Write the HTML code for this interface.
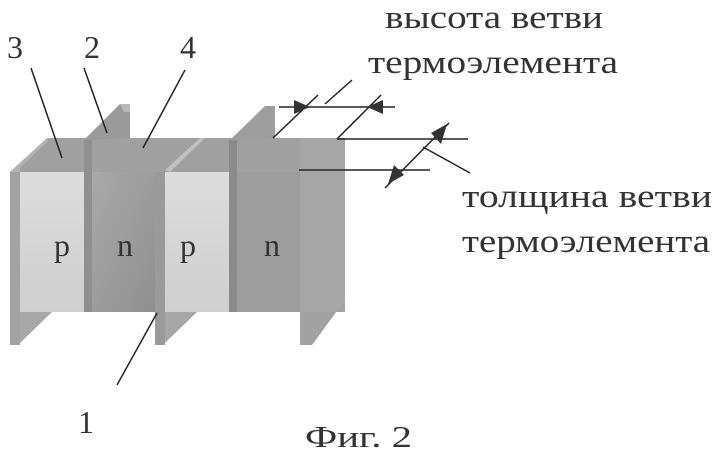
<!DOCTYPE html>
<html><head><meta charset="utf-8"><style>
html,body{margin:0;padding:0;background:#fff;width:722px;height:461px;overflow:hidden}
text{font-family:"Liberation Serif","Times New Roman",serif;fill:#333}
</style></head><body>
<svg width="722" height="461" viewBox="0 0 722 461" xmlns="http://www.w3.org/2000/svg">
<defs>
<linearGradient id="pg" x1="0" y1="0" x2="0" y2="1"><stop offset="0" stop-color="#dcdcdc"/><stop offset="1" stop-color="#cfcfcf"/></linearGradient>
<linearGradient id="ng" x1="0" y1="0" x2="1" y2="1"><stop offset="0" stop-color="#a9a9a9"/><stop offset="1" stop-color="#8f8f8f"/></linearGradient>
</defs>
<polygon points="10,172 47,138 345,138 345,172" fill="#a0a0a0"/>
<rect x="300" y="138" width="45" height="174" fill="#a6a6a6"/>
<polygon points="300,312 345,312 345,300 312,345 300,345" fill="#a2a2a2"/>
<polygon points="84,140 120,104 130,104 130,138" fill="#9a9a9a"/>
<polygon points="120,104 130,104 130,112 124,112" fill="#b8b8b8"/>
<polygon points="230,140 265,106 275,106 275,138" fill="#9e9e9e"/>
<polygon points="165,170 200,138 205,138 170,172" fill="#c0c0c0"/>
<rect x="20" y="172" width="64" height="140" fill="url(#pg)"/>
<rect x="92" y="172" width="64" height="140" fill="url(#ng)"/>
<rect x="165" y="172" width="64" height="140" fill="url(#pg)"/>
<rect x="237" y="172" width="63" height="140" fill="#9d9d9d"/>
<rect x="10" y="172" width="10" height="173" fill="#a3a3a3"/>
<polygon points="10,172 47,138 51,138 20,168 20,172" fill="#b3b3b3"/>
<polygon points="20,312 52,312 20,343" fill="#a8a8a8"/>
<rect x="84" y="140" width="8" height="172" fill="#8f8f8f"/>
<rect x="155" y="172" width="10" height="173" fill="#9a9a9a"/>
<polygon points="165,312 197,312 165,343" fill="#a6a6a6"/>
<rect x="229" y="140" width="8" height="172" fill="#8a8a8a"/>
<text x="62" y="256" font-size="32" text-anchor="middle" fill="#444">p</text>
<text x="125" y="256" font-size="32" text-anchor="middle" fill="#444">n</text>
<text x="188" y="256" font-size="32" text-anchor="middle" fill="#444">p</text>
<text x="272" y="256" font-size="32" text-anchor="middle" fill="#444">n</text>
<g stroke="#222" stroke-width="1.5" fill="none">
<line x1="31" y1="68" x2="62" y2="158"/>
<line x1="84" y1="68" x2="107" y2="133"/>
<line x1="185" y1="70" x2="143" y2="148"/>
<line x1="117" y1="385" x2="157" y2="313"/>
<line x1="279" y1="107" x2="395" y2="107"/>
<line x1="273" y1="138" x2="318" y2="95"/>
<line x1="337" y1="139" x2="381" y2="95"/>
<line x1="325" y1="104" x2="352" y2="80"/>
<line x1="337" y1="139" x2="468" y2="139"/>
<line x1="299" y1="170" x2="430" y2="170"/>
<line x1="385" y1="188" x2="449" y2="123"/>
<line x1="423" y1="147" x2="470" y2="173"/>
</g>
<g fill="#333">
<polygon points="294,100 310,107 294,114"/>
<polygon points="383,100 367,107 383,114"/>
<polygon points="447,124 441,144 431,133"/>
<polygon points="388,184 394,165 404,175"/>
</g>
<text x="7" y="58" font-size="32">3</text>
<text x="84" y="58" font-size="32">2</text>
<text x="180" y="58" font-size="32">4</text>
<text x="78" y="433" font-size="32">1</text>
<text x="305" y="447" font-size="31" textLength="107" lengthAdjust="spacingAndGlyphs">Фиг. 2</text>
<text x="385" y="28" font-size="33" textLength="218" lengthAdjust="spacingAndGlyphs">высота ветви</text>
<text x="368" y="73" font-size="33" textLength="250" lengthAdjust="spacingAndGlyphs">термоэлемента</text>
<text x="462" y="207" font-size="33" textLength="250" lengthAdjust="spacingAndGlyphs">толщина ветви</text>
<text x="462" y="252" font-size="33" textLength="248" lengthAdjust="spacingAndGlyphs">термоэлемента</text>
</svg>
</body></html>
